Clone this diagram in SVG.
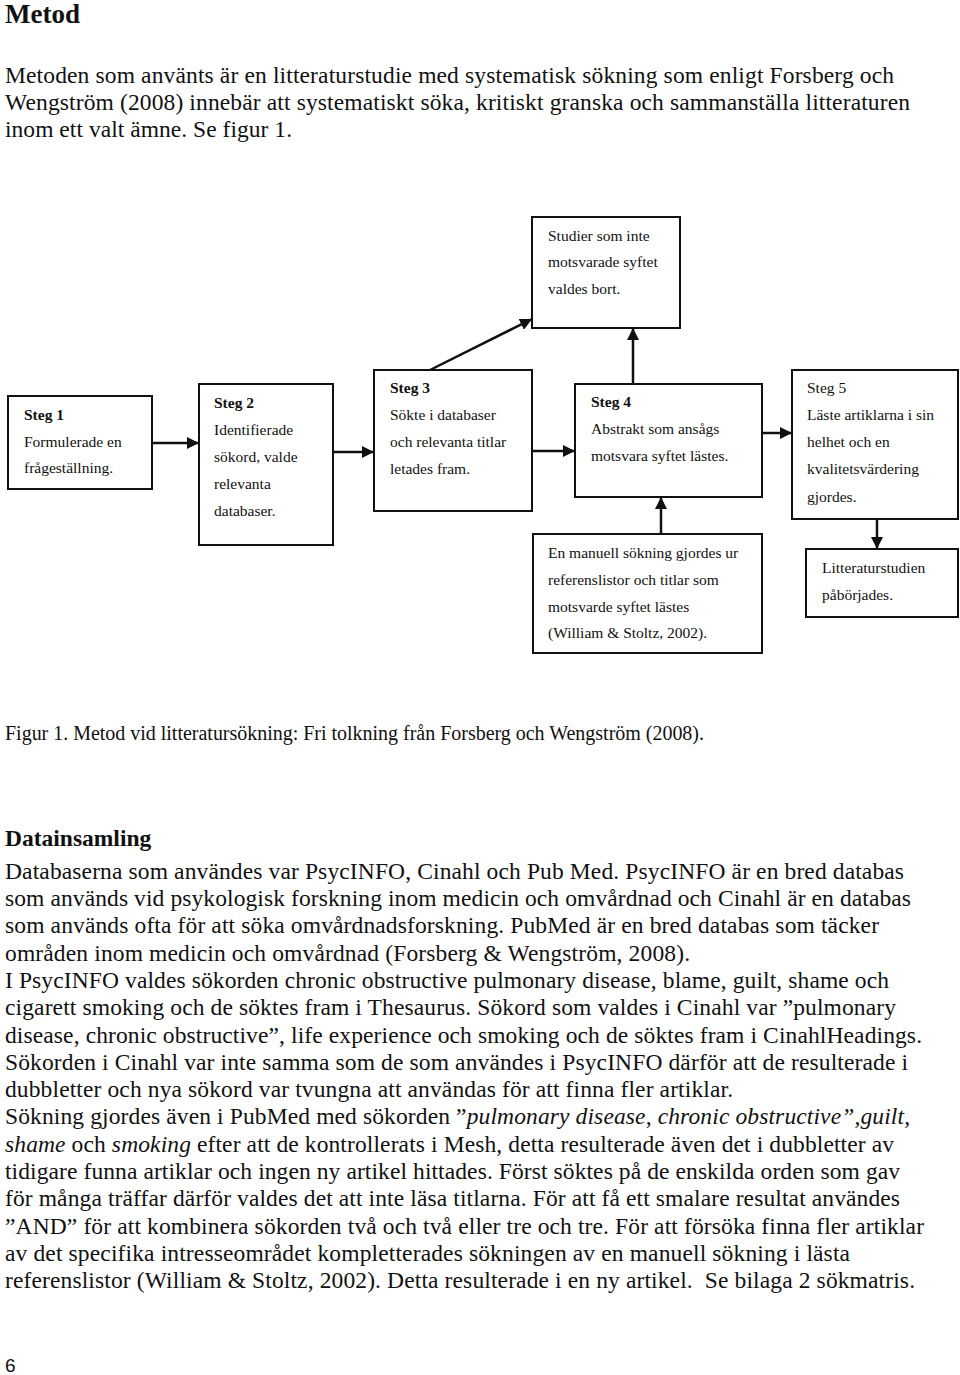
<svg xmlns="http://www.w3.org/2000/svg" width="960" height="1375" viewBox="0 0 960 1375">
<style>
.bg{fill:#fff}
.box{fill:#fff;stroke:#111;stroke-width:2}
.t{font-family:"Liberation Serif","Times New Roman",serif;font-size:15.5px;fill:#111}
.b{font-weight:bold}
.body{font-family:"Liberation Serif","Times New Roman",serif;font-size:23.5px;fill:#111}
.cap{font-family:"Liberation Serif","Times New Roman",serif;font-size:20px;fill:#111}
.h1{font-family:"Liberation Serif","Times New Roman",serif;font-size:27px;font-weight:bold;fill:#111}
.h2{font-family:"Liberation Serif","Times New Roman",serif;font-size:23.5px;font-weight:bold;fill:#111}
.pg{font-family:"Liberation Sans",Arial,sans-serif;font-size:19px;fill:#111}
.c{stroke:#111;stroke-width:2.5;fill:none;marker-end:url(#ah)}
</style>
<defs>
<marker id="ah" viewBox="0 0 12 12" refX="12" refY="6" markerWidth="12" markerHeight="12" markerUnits="userSpaceOnUse" orient="auto">
<path d="M0,0 L12,6 L0,12 z" fill="#111"/>
</marker>
</defs>
<rect class="bg" x="0" y="0" width="960" height="1375"/>

<g id="text">
<text class="h1" x="5" y="23">Metod</text>
<text class="body" x="5" y="83" textLength="889">Metoden som använts är en litteraturstudie med systematisk sökning som enligt Forsberg och</text>
<text class="body" x="5" y="110" textLength="905">Wengström (2008) innebär att systematiskt söka, kritiskt granska och sammanställa litteraturen</text>
<text class="body" x="5" y="137" textLength="287">inom ett valt ämne. Se figur 1.</text>
<text class="cap" x="5" y="740" textLength="699">Figur 1. Metod vid litteratursökning: Fri tolkning från Forsberg och Wengström (2008).</text>
<text class="h2" x="5" y="846">Datainsamling</text>
<text class="body" x="5" y="879" textLength="899">Databaserna som användes var PsycINFO, Cinahl och Pub Med. PsycINFO är en bred databas</text>
<text class="body" x="5" y="906" textLength="906">som används vid psykologisk forskning inom medicin och omvårdnad och Cinahl är en databas</text>
<text class="body" x="5" y="933" textLength="874">som används ofta för att söka omvårdnadsforskning. PubMed är en bred databas som täcker</text>
<text class="body" x="5" y="961" textLength="685">områden inom medicin och omvårdnad (Forsberg &amp; Wengström, 2008).</text>
<text class="body" x="5" y="988" textLength="884">I PsycINFO valdes sökorden chronic obstructive pulmonary disease, blame, guilt, shame och</text>
<text class="body" x="5" y="1015" textLength="891">cigarett smoking och de söktes fram i Thesaurus. Sökord som valdes i Cinahl var ”pulmonary</text>
<text class="body" x="5" y="1043" textLength="917">disease, chronic obstructive”, life experience och smoking och de söktes fram i CinahlHeadings.</text>
<text class="body" x="5" y="1070" textLength="903">Sökorden i Cinahl var inte samma som de som användes i PsycINFO därför att de resulterade i</text>
<text class="body" x="5" y="1097" textLength="728">dubbletter och nya sökord var tvungna att användas för att finna fler artiklar.</text>
<text class="body" x="5" y="1124" textLength="905">Sökning gjordes även i PubMed med sökorden ”<tspan font-style="italic">pulmonary disease, chronic obstructive”,guilt,</tspan></text>
<text class="body" x="5" y="1152" textLength="889"><tspan font-style="italic">shame</tspan> och <tspan font-style="italic">smoking</tspan> efter att de kontrollerats i Mesh, detta resulterade även det i dubbletter av</text>
<text class="body" x="5" y="1179" textLength="895">tidigare funna artiklar och ingen ny artikel hittades. Först söktes på de enskilda orden som gav</text>
<text class="body" x="5" y="1206" textLength="895">för många träffar därför valdes det att inte läsa titlarna. För att få ett smalare resultat användes</text>
<text class="body" x="5" y="1234" textLength="919">”AND” för att kombinera sökorden två och två eller tre och tre. För att försöka finna fler artiklar</text>
<text class="body" x="5" y="1261" textLength="845">av det specifika intresseområdet kompletterades sökningen av en manuell sökning i lästa</text>
<text class="body" x="5" y="1288" textLength="910" xml:space="preserve">referenslistor (William &amp; Stoltz, 2002). Detta resulterade i en ny artikel.  Se bilaga 2 sökmatris.</text>
<text class="pg" x="5" y="1372">6</text>
</g>

<g id="connectors">
<line class="c" x1="152" y1="443" x2="199" y2="443"/>
<line class="c" x1="333" y1="452" x2="374" y2="452"/>
<line class="c" x1="532" y1="451" x2="575" y2="451"/>
<line class="c" x1="762" y1="433" x2="792" y2="433"/>
<line class="c" x1="430" y1="370" x2="532" y2="319"/>
<line class="c" x1="633" y1="384" x2="633" y2="328"/>
<line class="c" x1="661" y1="534" x2="661" y2="497"/>
<line class="c" x1="877" y1="509" x2="877" y2="549"/>
</g>

<g id="studier">
<rect class="box" x="532" y="217" width="148" height="111"/>
<text class="t" x="548" y="241">Studier som inte</text>
<text class="t" x="548" y="267">motsvarade syftet</text>
<text class="t" x="548" y="294">valdes bort.</text>
</g>

<g id="steg1">
<rect class="box" x="8" y="396" width="144" height="93"/>
<text class="t b" x="24" y="420">Steg 1</text>
<text class="t" x="24" y="447">Formulerade en</text>
<text class="t" x="24" y="473">frågeställning.</text>
</g>

<g id="steg2">
<rect class="box" x="199" y="384" width="134" height="161"/>
<text class="t b" x="214" y="408">Steg 2</text>
<text class="t" x="214" y="435">Identifierade</text>
<text class="t" x="214" y="462">sökord, valde</text>
<text class="t" x="214" y="489">relevanta</text>
<text class="t" x="214" y="516">databaser.</text>
</g>

<g id="steg3">
<rect class="box" x="374" y="370" width="158" height="141"/>
<text class="t b" x="390" y="393">Steg 3</text>
<text class="t" x="390" y="420">Sökte i databaser</text>
<text class="t" x="390" y="447">och relevanta titlar</text>
<text class="t" x="390" y="474">letades fram.</text>
</g>

<g id="steg4">
<rect class="box" x="575" y="384" width="187" height="113"/>
<text class="t b" x="591" y="407">Steg 4</text>
<text class="t" x="591" y="434">Abstrakt som ansågs</text>
<text class="t" x="591" y="461">motsvara syftet lästes.</text>
</g>

<g id="steg5">
<rect class="box" x="792" y="370" width="166" height="149"/>
<text class="t" x="807" y="393">Steg 5</text>
<text class="t" x="807" y="420">Läste artiklarna i sin</text>
<text class="t" x="807" y="447">helhet och en</text>
<text class="t" x="807" y="474">kvalitetsvärdering</text>
<text class="t" x="807" y="502">gjordes.</text>
</g>

<g id="manuell">
<rect class="box" x="533" y="534" width="229" height="119"/>
<text class="t" x="548" y="558">En manuell sökning gjordes ur</text>
<text class="t" x="548" y="585">referenslistor och titlar som</text>
<text class="t" x="548" y="612">motsvarde syftet lästes</text>
<text class="t" x="548" y="638">(William &amp; Stoltz, 2002).</text>
</g>

<g id="litteraturstudien">
<rect class="box" x="806" y="549" width="152" height="68"/>
<text class="t" x="822" y="573">Litteraturstudien</text>
<text class="t" x="822" y="600">påbörjades.</text>
</g>
</svg>
